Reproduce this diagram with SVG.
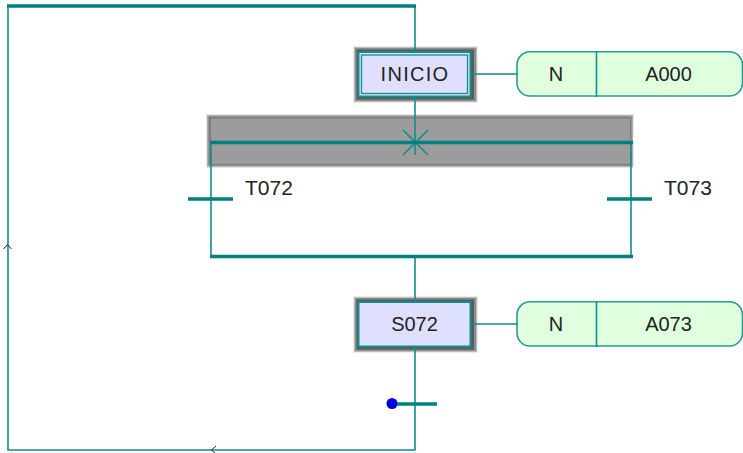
<svg xmlns="http://www.w3.org/2000/svg" width="743" height="453" viewBox="0 0 743 453">
<defs>
<style>
.w{fill:none;stroke:#0f8f8b;stroke-width:1.6}
.b{fill:none;stroke:#008080;stroke-width:3.4}
.a{fill:none;stroke:#222;stroke-width:1}
.s1{fill:#ececec}
.s2{fill:#bdbdbd}
.s3{fill:#8c8c8c}
.s4{fill:#5a5a5a}
.st{fill:#dfe0ff;stroke:#0f8f8b;stroke-width:2}
.ac{fill:#e0ffdf;stroke:#2a9a96;stroke-width:1.6}
text{font-family:"Liberation Sans",Arial,sans-serif;font-size:20px;fill:#222}
.m{text-anchor:middle}
.t{font-size:21px}
</style>
</defs>
<rect width="743" height="453" fill="#fff"/>
<g id="selection-band">
<rect x="206" y="114" width="428" height="54" fill="#e8e8e8"/>
<rect x="207" y="115" width="426" height="52" fill="#b0b0b0"/>
<rect x="208.500" y="116.500" width="423" height="49" fill="#7d7d7d"/>
<rect x="211" y="118.500" width="419" height="45.500" fill="#9c9c9c"/>
</g>
<g id="INICIO">
<rect class="s1" x="353" y="46" width="125" height="57"/>
<rect class="s2" x="354" y="47" width="123" height="55"/>
<rect class="s3" x="355" y="48" width="121" height="53"/>
<rect class="s4" x="356.500" y="49.500" width="117.500" height="50"/>
<rect class="st" x="358.500" y="52" width="112" height="44.500"/>
<rect x="361.500" y="55" width="106" height="38.500" fill="#dfe0ff" stroke="#0f8f8b" stroke-width="1.300"/>
<text class="m" x="415" y="81" letter-spacing="1.300">INICIO</text>
</g>
<g id="T072"><text class="t" x="245" y="194.500">T072</text></g>
<g id="T073"><text class="t" x="664" y="194.500">T073</text></g>
<g id="S072">
<rect class="s1" x="353" y="296" width="125" height="57"/>
<rect class="s2" x="354" y="297" width="123" height="55"/>
<rect class="s3" x="355" y="298" width="121" height="53"/>
<rect class="s4" x="356.500" y="299.500" width="117.500" height="50"/>
<rect class="st" x="358.500" y="302" width="112" height="44.500"/>
<text class="m" x="414.500" y="331">S072</text>
</g>
<g id="action-A000">
<rect class="ac" x="517" y="51.800" width="225.500" height="44.200" rx="13"/>
<path class="w" d="M596.500 52V97"/>
<text class="m" x="556" y="81">N</text>
<text class="m" x="668.500" y="81">A000</text>
</g>
<g id="action-A073">
<rect class="ac" x="517" y="301.800" width="225.500" height="44.200" rx="13"/>
<path class="w" d="M596.500 302V347"/>
<text class="m" x="556" y="331">N</text>
<text class="m" x="668.500" y="331">A073</text>
</g>
<g id="connectors">
<path class="w" d="M415 6V51M415 97V143M403 130L428 155M428 130L403 155M415 130V155M415 257V301M415 347V450H8V6M211 143V257M631 143V257M471 74H518M471 324H518"/>
<path class="b" d="M7 6H416M210 142.500H633M210 256.500H633M188 199H233M607 199H652M392 404H437"/>
<path class="a" d="M3.500 249L7.500 244.500L11.500 249M216 446L211.500 450L216 454"/>
<circle cx="392" cy="403.500" r="5.500" fill="#0000e0"/>
</g>
</svg>
